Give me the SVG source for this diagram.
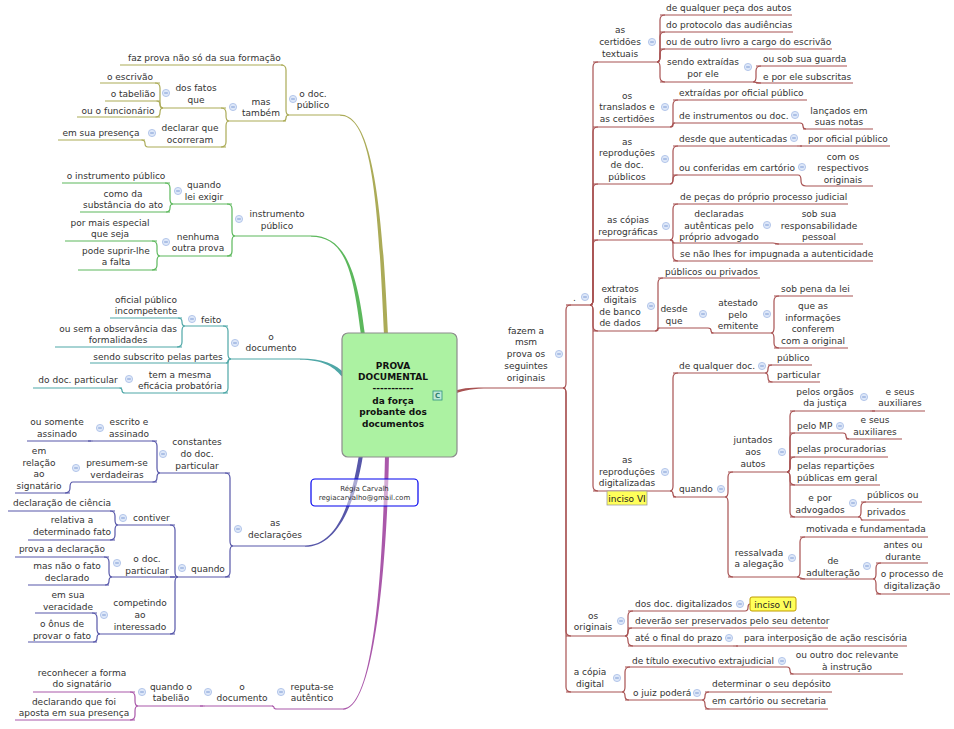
<svg xmlns="http://www.w3.org/2000/svg" width="954" height="729" viewBox="0 0 954 729">
<style>
.t{font-family:"DejaVu Sans","Liberation Sans",sans-serif;font-size:9px;fill:#333}
.m{text-anchor:middle}
.b{font-family:"DejaVu Sans","Liberation Sans",sans-serif;font-size:9px;font-weight:bold;fill:#111;text-anchor:middle}
.s{font-family:"DejaVu Sans","Liberation Sans",sans-serif;font-size:7px;fill:#333;text-anchor:middle}
.u,.c{fill:none;stroke-width:1.2}
.o{stroke:#abab57}.g{stroke:#5cb85c}.e{stroke:#4fa7a7}.v{stroke:#5757a9}.p{stroke:#aa58aa}.r{stroke:#a85252}
.tag{fill:#ffff5a}
</style>
<defs>
<g id="mn"><circle r="3.6" fill="#dde7f8" stroke="#a7bde6" stroke-width="0.8"/><path d="M-1.8 0H1.8" stroke="#7090d0" stroke-width="0.9"/></g>
</defs>
<rect width="954" height="729" fill="#fff"/>

<g id="connectors">
<path fill="#abab57" d="M388 335C382 200 372 114.4 340 114.4L340 115.8C372 115.8 378 200 384 335Z"/>
<path fill="#5cb85c" d="M365 335C357 270 345 235.4 311 235.4L311 236.8C345 236.8 353 270 361 335Z"/>
<path fill="#4fa7a7" d="M344.6 373.8C336.6 363.8 322 358.4 300 358.4L300 359.8C322 359.8 333.4 366.2 341.4 376.2Z"/>
<path fill="#5757a9" d="M359 454.7C350 509.7 335 545.4 305 545.4L305 546.8C335 546.8 354 510.3 363 455.3Z"/>
<path fill="#aa58aa" d="M385 455C383 560 375 708.4 343 708.4L343 709.8C375 709.8 387 560 389 455Z"/>
<path fill="#a85252" d="M455.4 393.4C465.4 390.4 472 388.6 490 388.6L490 387.4C472 387.4 464.6 387.6 454.6 390.6Z"/>
<path class="c o" d="M289 115Q286 115 286 110V70Q286 65 281 65"/>
<path class="c o" d="M289 115Q286 115 286 118Q286 121 283 121"/>
<path class="c o" d="M229 121Q226 121 226 116V113Q226 108 221 108"/>
<path class="c o" d="M229 121Q226 121 226 126V142Q226 147 221 147"/>
<path class="c o" d="M163 108Q160 108 160 103V88Q160 83 155 83"/>
<path class="c o" d="M163 108Q160 108 160 104.5Q160 101 156.5 101"/>
<path class="c o" d="M163 108Q160 108 160 112.5Q160 117 155.5 117"/>
<path class="c o" d="M148 147Q145 147 145 143.5Q145 140 141.5 140"/>
<path class="c g" d="M235 236Q232 236 232 231V209Q232 204 227 204"/>
<path class="c g" d="M235 236Q232 236 232 241V251Q232 256 227 256"/>
<path class="c g" d="M173 204Q170 204 170 199V188Q170 183 165 183"/>
<path class="c g" d="M173 204Q170 204 170 208Q170 212 166 212"/>
<path class="c g" d="M160 256Q157 256 157 251V246Q157 241 152 241"/>
<path class="c g" d="M160 256Q157 256 157 261V265Q157 270 152 270"/>
<path class="c e" d="M231 359Q228 359 228 354V331Q228 326 223 326"/>
<path class="c e" d="M231 359Q228 359 228 361Q228 363 226 363"/>
<path class="c e" d="M231 359Q228 359 228 364V388Q228 393 223 393"/>
<path class="c e" d="M185 326Q182 326 182 322Q182 318 178 318"/>
<path class="c e" d="M185 326Q182 326 182 331V342Q182 347 177 347"/>
<path class="c e" d="M125 393Q122 393 122 390.5Q122 388 119.5 388"/>
<path class="c v" d="M233 546Q230 546 230 541V478Q230 473 225 473"/>
<path class="c v" d="M233 546Q230 546 230 551V572Q230 577 225 577"/>
<path class="c v" d="M160 473Q157 473 157 468V446Q157 441 152 441"/>
<path class="c v" d="M160 473Q157 473 157 477.5Q157 482 152.5 482"/>
<path class="c v" d="M93 441H88"/>
<path class="c v" d="M73 482Q70 482 70 487V488Q70 493 65 493"/>
<path class="c v" d="M178 577Q175 577 175 572V530Q175 525 170 525"/>
<path class="c v" d="M178 577H170"/>
<path class="c v" d="M178 577Q175 577 175 582V629Q175 634 170 634"/>
<path class="c v" d="M118 525Q115 525 115 520V516Q115 511 110 511"/>
<path class="c v" d="M118 525Q115 525 115 530V535Q115 540 110 540"/>
<path class="c v" d="M112 577Q109 577 109 572V562Q109 557 104 557"/>
<path class="c v" d="M112 577Q109 577 109 581Q109 585 105 585"/>
<path class="c v" d="M100 634Q97 634 97 629V618Q97 613 92 613"/>
<path class="c v" d="M100 634Q97 634 97 638Q97 642 93 642"/>
<path class="c p" d="M277 709Q274 709 274 707.5Q274 706 272 706"/>
<path class="c p" d="M205 706H200"/>
<path class="c p" d="M138 706Q135 706 135 701V697Q135 692 130 692"/>
<path class="c p" d="M138 706Q135 706 135 711V715Q135 720 130 720"/>
<path class="c r" d="M563 388Q566 388 566 383V310Q566 305 571 305"/>
<path class="c r" d="M563 388Q566 388 566 393V631Q566 636 571 636"/>
<path class="c r" d="M563 388Q566 388 566 393V687Q566 692 571 692"/>
<path class="c r" d="M590 305Q593 305 593 300V67Q593 62 598 62"/>
<path class="c r" d="M590 305Q593 305 593 300V132Q593 127 598 127"/>
<path class="c r" d="M590 305Q593 305 593 300V189Q593 184 598 184"/>
<path class="c r" d="M590 305Q593 305 593 300V245Q593 240 598 240"/>
<path class="c r" d="M590 305Q593 305 593 310V326Q593 331 598 331"/>
<path class="c r" d="M590 305Q593 305 593 310V486Q593 491 598 491"/>
<path class="c r" d="M657 62Q660 62 660 57V20Q660 15 665 15"/>
<path class="c r" d="M657 62Q660 62 660 57V37Q660 32 665 32"/>
<path class="c r" d="M657 62Q660 62 660 57V54Q660 49 665 49"/>
<path class="c r" d="M657 62Q660 62 660 67V77Q660 82 665 82"/>
<path class="c r" d="M753 82Q756 82 756 77V71Q756 66 761 66"/>
<path class="c r" d="M753 82C756 82 756 83 761 83"/>
<path class="c r" d="M670 127Q673 127 673 122V105Q673 100 678 100"/>
<path class="c r" d="M670 127Q673 127 673 125Q673 123 675 123"/>
<path class="c r" d="M800 123Q803 123 803 126Q803 129 806 129"/>
<path class="c r" d="M670 184Q673 184 673 179V151Q673 146 678 146"/>
<path class="c r" d="M670 184Q673 184 673 179.5Q673 175 677.5 175"/>
<path class="c r" d="M797 146H802"/>
<path class="c r" d="M798 175Q801 175 801 180V181Q801 186 806 186"/>
<path class="c r" d="M670 240Q673 240 673 235V209Q673 204 678 204"/>
<path class="c r" d="M670 240Q673 240 673 241.5Q673 243 674.5 243"/>
<path class="c r" d="M670 240Q673 240 673 245V256Q673 261 678 261"/>
<path class="c r" d="M773 243C776 243 776 244 779 244"/>
<path class="c r" d="M655 331Q658 331 658 326V283Q658 278 663 278"/>
<path class="c r" d="M655 331Q658 331 658 329.5Q658 328 659.5 328"/>
<path class="c r" d="M708 328Q711 328 711 330.5Q711 333 713.5 333"/>
<path class="c r" d="M771 333Q774 333 774 328V301Q774 296 779 296"/>
<path class="c r" d="M771 333Q774 333 774 338V343Q774 348 779 348"/>
<path class="c r" d="M670 491Q673 491 673 486V378Q673 373 678 373"/>
<path class="c r" d="M670 491Q673 491 673 494Q673 497 676 497"/>
<path class="c r" d="M765 373Q768 373 768 369Q768 365 772 365"/>
<path class="c r" d="M765 373Q768 373 768 377.5Q768 382 772.5 382"/>
<path class="c r" d="M725 497Q728 497 728 492V477Q728 472 733 472"/>
<path class="c r" d="M725 497Q728 497 728 502V572Q728 577 733 577"/>
<path class="c r" d="M787 472Q790 472 790 467V416Q790 411 795 411"/>
<path class="c r" d="M787 472Q790 472 790 467V438Q790 433 795 433"/>
<path class="c r" d="M787 472Q790 472 790 467V462Q790 457 795 457"/>
<path class="c r" d="M787 472Q790 472 790 477V480Q790 485 795 485"/>
<path class="c r" d="M787 472Q790 472 790 477V512Q790 517 795 517"/>
<path class="c r" d="M870 411H875"/>
<path class="c r" d="M843 433Q846 433 846 436Q846 439 849 439"/>
<path class="c r" d="M858 517Q861 517 861 512V507Q861 502 866 502"/>
<path class="c r" d="M858 517Q861 517 861 518.5Q861 520 862.5 520"/>
<path class="c r" d="M797 577Q800 577 800 572V542Q800 537 805 537"/>
<path class="c r" d="M797 577C800 577 800 579 805 579"/>
<path class="c r" d="M873 579Q876 579 876 574V568Q876 563 881 563"/>
<path class="c r" d="M873 579Q876 579 876 584V589Q876 594 881 594"/>
<path class="c r" d="M625 636Q628 636 628 631V616Q628 611 633 611"/>
<path class="c r" d="M625 636Q628 636 628 632Q628 628 632 628"/>
<path class="c r" d="M625 636Q628 636 628 641Q628 646 633 646"/>
<path class="c r" d="M745 611Q748 611 748 607.5Q748 604 750 604"/>
<path class="c r" d="M733 646H738"/>
<path class="c r" d="M622 692Q625 692 625 687V672Q625 667 630 667"/>
<path class="c r" d="M622 692Q625 692 625 696Q625 700 629 700"/>
<path class="c r" d="M787 667Q790 667 790 670.5Q790 674 793.5 674"/>
<path class="c r" d="M702 700Q705 700 705 696Q705 692 709 692"/>
<path class="c r" d="M702 700Q705 700 705 704.5Q705 709 709.5 709"/>
</g>

<g id="center">
<rect x="342" y="333" width="115" height="124" rx="6" fill="#acf2a2" stroke="#8c8c8c" stroke-width="1.2"/>
<text class="b"><tspan x="393" y="368.5">PROVA</tspan><tspan x="393" y="380">DOCUMENTAL</tspan><tspan x="393" y="391">-----------</tspan><tspan x="393" y="403.5">da força</tspan><tspan x="393" y="415">probante dos</tspan><tspan x="393" y="426.5">documentos</tspan></text>
<rect x="433" y="391" width="9" height="9" fill="#bfe9d6" stroke="#2f8f7f" stroke-width="0.8"/>
<text x="437.5" y="398.3" style="font-family:'DejaVu Sans',sans-serif;font-size:7px;font-weight:bold;fill:#2f7f6f;text-anchor:middle">C</text>
</g>

<g id="author">
<rect x="311" y="479" width="107" height="27" rx="4" fill="#fff" fill-opacity="0.5" stroke="#0000ee" stroke-width="1.2"/>
<text class="s"><tspan x="364.5" y="490.5">Régia Carvalh</tspan><tspan x="364.5" y="499.5">regiacarvalho@gmail.com</tspan></text>
</g>

<g id="n-doc-publico"><text class="t m"><tspan x="313" y="96.5">o doc.</tspan><tspan x="313" y="108">público</tspan></text><path class="u o" d="M289 115H340"/><use href="#mn" x="293" y="99"/></g>
<g id="n-faz-prova"><text class="t" x="128" y="61">faz prova não só da sua formação</text><path class="u o" d="M120 65H283"/></g>
<g id="n-mas-tambem"><text class="t m"><tspan x="261" y="104.5">mas</tspan><tspan x="261" y="116">também</tspan></text><path class="u o" d="M229 121H286"/><use href="#mn" x="233" y="107"/></g>
<g id="n-dos-fatos"><text class="t m"><tspan x="196" y="90.5">dos fatos</tspan><tspan x="196" y="102.5">que</tspan></text><path class="u o" d="M163 108H226"/><use href="#mn" x="166" y="93"/></g>
<g id="n-escrivao"><text class="t m" x="130" y="79.5">o escrivão</text><path class="u o" d="M100 83H160"/></g>
<g id="n-tabeliao"><text class="t m" x="133" y="96.5">o tabelião</text><path class="u o" d="M105 101H160"/></g>
<g id="n-funcionario"><text class="t m" x="118" y="113.5">ou o funcionário</text><path class="u o" d="M77 117H160"/></g>
<g id="n-declarar"><text class="t m"><tspan x="190" y="130.5">declarar que</tspan><tspan x="190" y="142.5">ocorreram</tspan></text><path class="u o" d="M148 147H226"/><use href="#mn" x="152" y="133"/></g>
<g id="n-presenca"><text class="t m" x="101" y="135.5">em sua presença</text><path class="u o" d="M58 140H145"/></g>

<g id="n-instrumento"><text class="t m"><tspan x="277" y="216.5">instrumento</tspan><tspan x="277" y="228.5">público</tspan></text><path class="u g" d="M235 236H311"/><use href="#mn" x="239" y="219"/></g>
<g id="n-quando-lei"><text class="t m"><tspan x="204" y="187.5">quando</tspan><tspan x="204" y="199.5">lei exigir</tspan></text><path class="u g" d="M173 204H232"/><use href="#mn" x="178" y="191"/></g>
<g id="n-instr-pub"><text class="t m" x="116" y="179">o instrumento público</text><path class="u g" d="M62 183H170"/></g>
<g id="n-substancia"><text class="t m"><tspan x="123" y="196.5">como da</tspan><tspan x="123" y="208">substância do ato</tspan></text><path class="u g" d="M80 212H170"/></g>
<g id="n-nenhuma"><text class="t m"><tspan x="198" y="239.5">nenhuma</tspan><tspan x="198" y="250.5">outra prova</tspan></text><path class="u g" d="M160 256H232"/><use href="#mn" x="166" y="242"/></g>
<g id="n-especial"><text class="t m"><tspan x="110" y="225.5">por mais especial</tspan><tspan x="110" y="236.5">que seja</tspan></text><path class="u g" d="M65 241H157"/></g>
<g id="n-suprir"><text class="t m"><tspan x="116" y="253.5">pode suprir-lhe</tspan><tspan x="116" y="264.5">a falta</tspan></text><path class="u g" d="M78 270H157"/></g>

<g id="n-o-documento"><text class="t m"><tspan x="271" y="339.5">o</tspan><tspan x="271" y="350.5">documento</tspan></text><path class="u e" d="M231 359H300"/><use href="#mn" x="235" y="343"/></g>
<g id="n-feito"><text class="t" x="201" y="322.5">feito</text><path class="u e" d="M185 326H228"/><use href="#mn" x="192" y="319"/></g>
<g id="n-oficial"><text class="t m"><tspan x="146" y="302.5">oficial público</tspan><tspan x="146" y="313.5">incompetente</tspan></text><path class="u e" d="M110 318H182"/></g>
<g id="n-formalidades"><text class="t m"><tspan x="118" y="331.5">ou sem a observância das</tspan><tspan x="118" y="342.5">formalidades</tspan></text><path class="u e" d="M55 347H182"/></g>
<g id="n-subscrito"><text class="t m" x="158" y="359.5">sendo subscrito pelas partes</text><path class="u e" d="M90 363H228"/></g>
<g id="n-eficacia"><text class="t m"><tspan x="180" y="377.5">tem a mesma</tspan><tspan x="180" y="388.5">eficácia probatória</tspan></text><path class="u e" d="M125 393H228"/><use href="#mn" x="129" y="379"/></g>
<g id="n-doc-particular"><text class="t m" x="78" y="382.5">do doc. particular</text><path class="u e" d="M33 388H122"/></g>

<g id="n-declaracoes"><text class="t m"><tspan x="275" y="525.5">as</tspan><tspan x="275" y="537.5">declarações</tspan></text><path class="u v" d="M233 546H305"/><use href="#mn" x="238" y="529"/></g>
<g id="n-constantes"><text class="t m"><tspan x="197" y="444.5">constantes</tspan><tspan x="197" y="456.5">do doc.</tspan><tspan x="197" y="468.5">particular</tspan></text><path class="u v" d="M160 473H230"/><use href="#mn" x="163" y="454"/></g>
<g id="n-escrito"><text class="t m"><tspan x="129" y="424.5">escrito e</tspan><tspan x="129" y="436.5">assinado</tspan></text><path class="u v" d="M93 441H157"/><use href="#mn" x="100" y="428"/></g>
<g id="n-somente"><text class="t m"><tspan x="57" y="424.5">ou somente</tspan><tspan x="57" y="436.5">assinado</tspan></text><path class="u v" d="M27 441H91"/></g>
<g id="n-presumem"><text class="t m"><tspan x="117" y="465.5">presumem-se</tspan><tspan x="117" y="477.5">verdadeiras</tspan></text><path class="u v" d="M73 482H157"/><use href="#mn" x="76" y="468"/></g>
<g id="n-signatario"><text class="t m"><tspan x="39" y="453.5">em</tspan><tspan x="39" y="465.5">relação</tspan><tspan x="39" y="476.5">ao</tspan><tspan x="39" y="488.5">signatário</tspan></text><path class="u v" d="M15 493H70"/></g>
<g id="n-quando-decl"><text class="t" x="191" y="571.5">quando</text><path class="u v" d="M178 577H230"/><use href="#mn" x="182" y="568"/></g>
<g id="n-contiver"><text class="t" x="133" y="521">contiver</text><path class="u v" d="M118 525H175"/><use href="#mn" x="123" y="518"/></g>
<g id="n-ciencia"><text class="t m" x="62" y="505.5">declaração de ciência</text><path class="u v" d="M8 511H115"/></g>
<g id="n-relativa"><text class="t m"><tspan x="72" y="522.5">relativa a</tspan><tspan x="72" y="534.5">determinado fato</tspan></text><path class="u v" d="M28 540H115"/></g>
<g id="n-doc-part2"><text class="t m"><tspan x="147" y="561.5">o doc.</tspan><tspan x="147" y="573.5">particular</tspan></text><path class="u v" d="M112 577H175"/><use href="#mn" x="117" y="563"/></g>
<g id="n-prova-decl"><text class="t m" x="62" y="551.5">prova a declaração</text><path class="u v" d="M15 557H109"/></g>
<g id="n-mas-nao"><text class="t m"><tspan x="67" y="568.5">mas não o fato</tspan><tspan x="67" y="580.5">declarado</tspan></text><path class="u v" d="M28 585H109"/></g>
<g id="n-competindo"><text class="t m"><tspan x="140" y="605.5">competindo</tspan><tspan x="140" y="617.5">ao</tspan><tspan x="140" y="629.5">interessado</tspan></text><path class="u v" d="M100 634H175"/><use href="#mn" x="104" y="615"/></g>
<g id="n-veracidade"><text class="t m"><tspan x="68" y="597.5">em sua</tspan><tspan x="68" y="609.5">veracidade</tspan></text><path class="u v" d="M35 613H97"/></g>
<g id="n-onus"><text class="t m"><tspan x="62" y="626.5">o ônus de</tspan><tspan x="62" y="638.5">provar o fato</tspan></text><path class="u v" d="M28 642H97"/></g>

<g id="n-reputa"><text class="t m"><tspan x="312" y="689.5">reputa-se</tspan><tspan x="312" y="700.5">autêntico</tspan></text><path class="u p" d="M277 709H343"/><use href="#mn" x="281" y="692"/></g>
<g id="n-o-doc3"><text class="t m"><tspan x="242" y="689.5">o</tspan><tspan x="242" y="700.5">documento</tspan></text><path class="u p" d="M205 706H273"/><use href="#mn" x="208" y="692"/></g>
<g id="n-quando-tab"><text class="t m"><tspan x="171" y="689.5">quando o</tspan><tspan x="171" y="700.5">tabelião</tspan></text><path class="u p" d="M138 706H203"/><use href="#mn" x="142" y="692"/></g>
<g id="n-reconhecer"><text class="t m"><tspan x="82" y="675.5">reconhecer a forma</tspan><tspan x="82" y="686.5">do signatário</tspan></text><path class="u p" d="M33 692H135"/></g>
<g id="n-declarando"><text class="t m"><tspan x="74" y="704.5">declarando que foi</tspan><tspan x="74" y="715.5">aposta em sua presença</tspan></text><path class="u p" d="M15 720H135"/></g>

<g id="n-fazem"><text class="t m"><tspan x="526" y="333.5">fazem a</tspan><tspan x="526" y="345">msm</tspan><tspan x="526" y="357">prova os</tspan><tspan x="526" y="368.5">seguintes</tspan><tspan x="526" y="380.5">originais</tspan></text><path class="u r" d="M490 388H563"/><use href="#mn" x="559" y="354"/></g>
<g id="n-dot"><text class="t" x="573" y="301">.</text><path class="u r" d="M566 305H590"/><use href="#mn" x="585" y="297"/></g>

<g id="n-certidoes"><text class="t m"><tspan x="620" y="32.5">as</tspan><tspan x="620" y="44.5">certidões</tspan><tspan x="620" y="56.5">textuais</tspan></text><path class="u r" d="M593 62H657"/><use href="#mn" x="652" y="42"/></g>
<g id="n-peca"><text class="t" x="666" y="10.5">de qualquer peça dos autos</text><path class="u r" d="M660 15H792"/></g>
<g id="n-protocolo"><text class="t" x="666" y="27.5">do protocolo das audiências</text><path class="u r" d="M660 32H793"/></g>
<g id="n-livro"><text class="t" x="666" y="45">ou de outro livro a cargo do escrivão</text><path class="u r" d="M660 49H832"/></g>
<g id="n-sendo-extr"><text class="t m"><tspan x="703" y="64.5">sendo extraídas</tspan><tspan x="703" y="76.5">por ele</tspan></text><path class="u r" d="M660 82H753"/><use href="#mn" x="748" y="67"/></g>
<g id="n-guarda"><text class="t" x="763" y="61.5">ou sob sua guarda</text><path class="u r" d="M756 66H847"/></g>
<g id="n-subscritas"><text class="t" x="763" y="79.5">e por ele subscritas</text><path class="u r" d="M756 83H853"/></g>

<g id="n-translados"><text class="t m"><tspan x="627" y="98.5">os</tspan><tspan x="627" y="110">translados e</tspan><tspan x="627" y="121.5">as certidões</tspan></text><path class="u r" d="M593 127H670"/><use href="#mn" x="665" y="107"/></g>
<g id="n-extraidas"><text class="t" x="679" y="96">extraídas por oficial público</text><path class="u r" d="M673 100H807"/></g>
<g id="n-instrumentos"><text class="t" x="679" y="118.5">de instrumentos ou doc.</text><path class="u r" d="M673 123H800"/><use href="#mn" x="795" y="115"/></g>
<g id="n-lancados"><text class="t m"><tspan x="839" y="113.5">lançados em</tspan><tspan x="839" y="124.5">suas notas</tspan></text><path class="u r" d="M803 129H873"/></g>

<g id="n-reproducoes-pub"><text class="t m"><tspan x="627" y="144.5">as</tspan><tspan x="627" y="156">reproduções</tspan><tspan x="627" y="168">de doc.</tspan><tspan x="627" y="179.5">públicos</tspan></text><path class="u r" d="M593 184H670"/><use href="#mn" x="665" y="159"/></g>
<g id="n-autenticadas"><text class="t" x="679" y="141.5">desde que autenticadas</text><path class="u r" d="M673 146H797"/><use href="#mn" x="794" y="138"/></g>
<g id="n-por-oficial"><text class="t" x="808" y="141.5">por oficial público</text><path class="u r" d="M800 146H890"/></g>
<g id="n-conferidas"><text class="t" x="679" y="170.5">ou conferidas em cartório</text><path class="u r" d="M673 175H798"/><use href="#mn" x="802" y="167"/></g>
<g id="n-respectivos"><text class="t m"><tspan x="843" y="159.5">com os</tspan><tspan x="843" y="171">respectivos</tspan><tspan x="843" y="182.5">originais</tspan></text><path class="u r" d="M806 186H873"/></g>

<g id="n-copias"><text class="t m"><tspan x="628" y="222.5">as cópias</tspan><tspan x="628" y="234.5">reprográficas</tspan></text><path class="u r" d="M593 240H670"/><use href="#mn" x="666" y="226"/></g>
<g id="n-pecas"><text class="t" x="680" y="199.5">de peças do próprio processo judicial</text><path class="u r" d="M673 204H848"/></g>
<g id="n-declaradas"><text class="t m"><tspan x="719" y="216.5">declaradas</tspan><tspan x="719" y="228.5">autênticas pelo</tspan><tspan x="719" y="239.5">próprio advogado</tspan></text><path class="u r" d="M673 243H773"/><use href="#mn" x="767" y="225"/></g>
<g id="n-responsab"><text class="t m"><tspan x="819" y="216.5">sob sua</tspan><tspan x="819" y="228.5">responsabilidade</tspan><tspan x="819" y="239.5">pessoal</tspan></text><path class="u r" d="M775 244H863"/></g>
<g id="n-impugnada"><text class="t" x="680" y="256.5">se não lhes for impugnada a autenticidade</text><path class="u r" d="M673 261H873"/></g>

<g id="n-extratos"><text class="t m"><tspan x="620" y="291.5">extratos</tspan><tspan x="620" y="302.5">digitais</tspan><tspan x="620" y="314.5">de banco</tspan><tspan x="620" y="325.5">de dados</tspan></text><path class="u r" d="M593 331H655"/><use href="#mn" x="651" y="306"/></g>
<g id="n-pub-priv"><text class="t" x="665" y="274.5">públicos ou privados</text><path class="u r" d="M658 278H760"/></g>
<g id="n-desde-que"><text class="t m"><tspan x="674" y="311.5">desde</tspan><tspan x="674" y="323.5">que</tspan></text><path class="u r" d="M658 328H708"/><use href="#mn" x="703" y="314"/></g>
<g id="n-atestado"><text class="t m"><tspan x="738" y="305.5">atestado</tspan><tspan x="738" y="317.5">pelo</tspan><tspan x="738" y="328.5">emitente</tspan></text><path class="u r" d="M711 333H771"/><use href="#mn" x="767" y="314"/></g>
<g id="n-pena"><text class="t" x="781" y="291.5">sob pena da lei</text><path class="u r" d="M774 296H853"/></g>
<g id="n-informacoes"><text class="t m"><tspan x="813" y="308.5">que as</tspan><tspan x="813" y="320.5">informações</tspan><tspan x="813" y="331.5">conferem</tspan><tspan x="813" y="343.5">com a original</tspan></text><path class="u r" d="M774 348H848"/></g>

<g id="n-digitalizadas"><text class="t m"><tspan x="627" y="462.5">as</tspan><tspan x="627" y="474.5">reproduções</tspan><tspan x="627" y="485.5">digitalizadas</tspan></text><path class="u r" d="M593 491H670"/><use href="#mn" x="665" y="472"/>
<rect x="607" y="491" width="40" height="14" class="tag" stroke="#a0a0a0" stroke-width="0.8"/><text class="t m" x="627" y="501.5" style="fill:#222">inciso VI</text></g>
<g id="n-qualquer-doc"><text class="t" x="679" y="368.5">de qualquer doc.</text><path class="u r" d="M673 373H765"/><use href="#mn" x="762" y="366"/></g>
<g id="n-publico"><text class="t" x="777" y="360.5">público</text><path class="u r" d="M768 365H812"/></g>
<g id="n-particular"><text class="t" x="777" y="377.5">particular</text><path class="u r" d="M768 382H820"/></g>
<g id="n-quando-dig"><text class="t" x="679" y="491.5">quando</text><path class="u r" d="M673 497H725"/><use href="#mn" x="721" y="489"/></g>
<g id="n-juntados"><text class="t m"><tspan x="753" y="442.5">juntados</tspan><tspan x="753" y="454.5">aos</tspan><tspan x="753" y="466.5">autos</tspan></text><path class="u r" d="M728 472H787"/><use href="#mn" x="782" y="452"/></g>
<g id="n-orgaos"><text class="t m"><tspan x="825" y="394.5">pelos orgãos</tspan><tspan x="825" y="405.5">da justiça</tspan></text><path class="u r" d="M790 411H870"/><use href="#mn" x="864" y="397"/></g>
<g id="n-aux1"><text class="t m"><tspan x="900" y="394.5">e seus</tspan><tspan x="900" y="405.5">auxiliares</tspan></text><path class="u r" d="M872 411H925"/></g>
<g id="n-mp"><text class="t" x="797" y="428.5">pelo MP</text><path class="u r" d="M790 433H843"/><use href="#mn" x="840" y="426"/></g>
<g id="n-aux2"><text class="t m"><tspan x="875" y="422.5">e seus</tspan><tspan x="875" y="434.5">auxiliares</tspan></text><path class="u r" d="M846 439H902"/></g>
<g id="n-procuradorias"><text class="t" x="797" y="451.5">pelas procuradorias</text><path class="u r" d="M790 457H888"/></g>
<g id="n-reparticoes"><text class="t"><tspan x="797" y="468.5">pelas repartições</tspan><tspan x="797" y="480.5">públicas em geral</tspan></text><path class="u r" d="M790 485H880"/></g>
<g id="n-advogados"><text class="t m"><tspan x="820" y="500.5">e por</tspan><tspan x="820" y="512.5">advogados</tspan></text><path class="u r" d="M790 517H858"/><use href="#mn" x="853" y="503"/></g>
<g id="n-publicos-ou"><text class="t" x="867" y="497.5">públicos ou</text><path class="u r" d="M861 502H922"/></g>
<g id="n-privados"><text class="t" x="867" y="514.5">privados</text><path class="u r" d="M861 520H909"/></g>
<g id="n-ressalvada"><text class="t m"><tspan x="759" y="555.5">ressalvada</tspan><tspan x="759" y="566.5">a alegação</tspan></text><path class="u r" d="M728 577H797"/><use href="#mn" x="792" y="558"/></g>
<g id="n-motivada"><text class="t" x="806" y="531.5">motivada e fundamentada</text><path class="u r" d="M800 537H928"/></g>
<g id="n-adulteracao"><text class="t m"><tspan x="833" y="563.5">de</tspan><tspan x="833" y="575.5">adulteração</tspan></text><path class="u r" d="M800 579H873"/><use href="#mn" x="867" y="566"/></g>
<g id="n-antes"><text class="t m"><tspan x="903" y="547.5">antes ou</tspan><tspan x="903" y="559.5">durante</tspan></text><path class="u r" d="M876 563H928"/></g>
<g id="n-processo"><text class="t m"><tspan x="912" y="576.5">o processo de</tspan><tspan x="912" y="588.5">digitalização</tspan></text><path class="u r" d="M876 594H950"/></g>

<g id="n-originais"><text class="t m"><tspan x="593" y="618.5">os</tspan><tspan x="593" y="629.5">originais</tspan></text><path class="u r" d="M566 636H625"/><use href="#mn" x="621" y="621"/></g>
<g id="n-dos-doc"><text class="t" x="635" y="606.5">dos doc. digitalizados</text><path class="u r" d="M628 611H745"/><use href="#mn" x="740" y="604"/></g>
<g id="n-inciso2"><rect x="750" y="597" width="46" height="14" rx="2" class="tag" stroke="#c09a00" stroke-width="1"/><text class="t m" x="773" y="607.5" style="fill:#222">inciso VI</text></g>
<g id="n-preservados"><text class="t" x="635" y="623.5">deverão ser preservados pelo seu detentor</text><path class="u r" d="M628 628H828"/></g>
<g id="n-prazo"><text class="t" x="635" y="640.5">até o final do prazo</text><path class="u r" d="M628 646H733"/><use href="#mn" x="729" y="638"/></g>
<g id="n-rescisoria"><text class="t" x="744" y="640.5">para interposição de ação rescisória</text><path class="u r" d="M736 646H907"/></g>
<g id="n-copia-digital"><text class="t m"><tspan x="590" y="674.5">a cópia</tspan><tspan x="590" y="686.5">digital</tspan></text><path class="u r" d="M566 692H622"/><use href="#mn" x="617" y="678"/></g>
<g id="n-titulo"><text class="t" x="632" y="663.5">de título executivo extrajudicial</text><path class="u r" d="M625 667H787"/><use href="#mn" x="782" y="661"/></g>
<g id="n-outro-doc"><text class="t m"><tspan x="847" y="657.5">ou outro doc relevante</tspan><tspan x="847" y="669.5">à instrução</tspan></text><path class="u r" d="M790 674H903"/></g>
<g id="n-juiz"><text class="t" x="633" y="695.5">o juiz poderá</text><path class="u r" d="M625 700H702"/><use href="#mn" x="697" y="693"/></g>
<g id="n-deposito"><text class="t" x="712" y="686.5">determinar o seu depósito</text><path class="u r" d="M705 692H832"/></g>
<g id="n-cartorio"><text class="t" x="712" y="703.5">em cartório ou secretaria</text><path class="u r" d="M705 709H828"/></g>
</svg>
